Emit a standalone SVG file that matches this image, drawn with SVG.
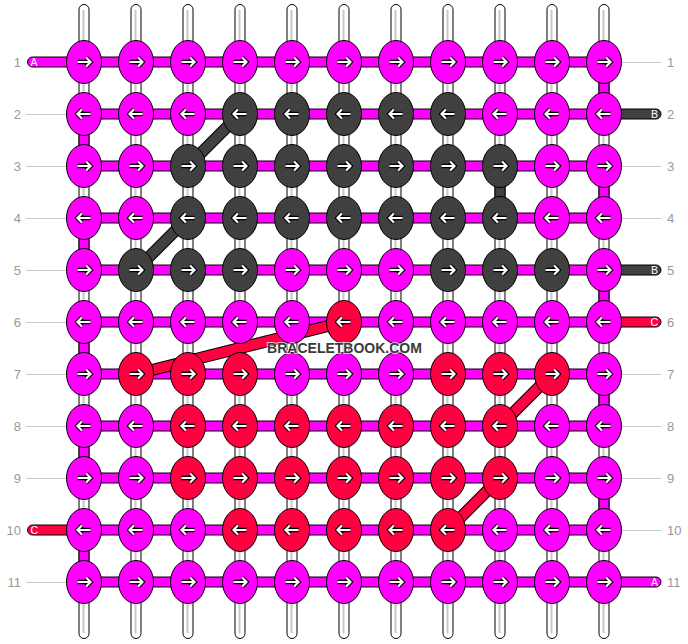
<svg xmlns="http://www.w3.org/2000/svg" xmlns:xlink="http://www.w3.org/1999/xlink" width="688" height="644" viewBox="0 0 688 644">
<style>
.st{fill:#fff;stroke:#000;stroke-width:1}
.gl{stroke:#c8c8c8;stroke-width:2}
.vp{stroke:#000;stroke-width:1}
.hb{fill:#ff00ff;stroke:#000;stroke-width:1}
.m,.vm{fill:#ff00ff}
.d,.vd{fill:#404040}
.r,.vr{fill:#ff0040}
#nd{stroke:#000;stroke-width:1}
.ao{fill:none;stroke:#000;stroke-width:4.4;stroke-linejoin:miter}
.ai{fill:none;stroke:#fff;stroke-width:2.2;stroke-linejoin:miter}
.dgo{stroke:#000;stroke-width:12}
.dgd{stroke:#404040;stroke-width:10}
.dgr{stroke:#ff0040;stroke-width:10}
.ln{stroke:#c8c8c8;stroke-width:1}
.num{font-family:"Liberation Sans",Arial,sans-serif;font-size:13px;fill:#999}
.tl{font-family:"Liberation Sans",Arial,sans-serif;font-size:10.5px;fill:#fff}
.wm{font-family:"Liberation Sans",Arial,sans-serif;font-size:14px;font-weight:bold;fill:#3a3a3a;stroke:#fff;stroke-width:2;paint-order:stroke;stroke-opacity:0.7}
</style>
<defs>
<g id="ar"><path class="ao" d="M-6.5,0H6.5M2.2,-4.4L6.5,0L2.2,4.4"/><path class="ai" d="M-6.5,0H6.5M2.2,-4.4L6.5,0L2.2,4.4"/></g>
<g id="al"><use xlink:href="#ar" href="#ar" transform="scale(-1,1)"/></g>
<ellipse id="nd" rx="17.5" ry="21.5"/>
</defs>
<g id="connectors">
<g id="strands">
<rect class="st" x="79" y="4.5" width="10" height="634" rx="5"/><line class="gl" x1="83.5" y1="10" x2="83.5" y2="633"/>
<rect class="st" x="131" y="4.5" width="10" height="634" rx="5"/><line class="gl" x1="135.5" y1="10" x2="135.5" y2="633"/>
<rect class="st" x="183" y="4.5" width="10" height="634" rx="5"/><line class="gl" x1="187.5" y1="10" x2="187.5" y2="633"/>
<rect class="st" x="235" y="4.5" width="10" height="634" rx="5"/><line class="gl" x1="239.5" y1="10" x2="239.5" y2="633"/>
<rect class="st" x="287" y="4.5" width="10" height="634" rx="5"/><line class="gl" x1="291.5" y1="10" x2="291.5" y2="633"/>
<rect class="st" x="339" y="4.5" width="10" height="634" rx="5"/><line class="gl" x1="343.5" y1="10" x2="343.5" y2="633"/>
<rect class="st" x="391" y="4.5" width="10" height="634" rx="5"/><line class="gl" x1="395.5" y1="10" x2="395.5" y2="633"/>
<rect class="st" x="443" y="4.5" width="10" height="634" rx="5"/><line class="gl" x1="447.5" y1="10" x2="447.5" y2="633"/>
<rect class="st" x="495" y="4.5" width="10" height="634" rx="5"/><line class="gl" x1="499.5" y1="10" x2="499.5" y2="633"/>
<rect class="st" x="547" y="4.5" width="10" height="634" rx="5"/><line class="gl" x1="551.5" y1="10" x2="551.5" y2="633"/>
<rect class="st" x="599" y="4.5" width="10" height="634" rx="5"/><line class="gl" x1="603.5" y1="10" x2="603.5" y2="633"/>
</g>
<g id="vertical-pieces">
<rect class="vp vm" x="79" y="133" width="10" height="16"/>
<rect class="vp vm" x="79" y="237" width="10" height="16"/>
<rect class="vp vm" x="79" y="341" width="10" height="16"/>
<rect class="vp vm" x="79" y="445" width="10" height="16"/>
<rect class="vp vm" x="79" y="549" width="10" height="16"/>
<rect class="vp vm" x="599" y="81" width="10" height="16"/>
<rect class="vp vm" x="599" y="185" width="10" height="16"/>
<rect class="vp vm" x="599" y="289" width="10" height="16"/>
<rect class="vp vm" x="599" y="393" width="10" height="16"/>
<rect class="vp vm" x="599" y="497" width="10" height="16"/>
<rect class="vp vd" x="495" y="185" width="10" height="16"/>
</g>
<g id="rows">
<rect class="hb" x="84" y="57" width="520" height="10"/>
<rect class="hb" x="84" y="109" width="520" height="10"/>
<rect class="hb" x="84" y="161" width="520" height="10"/>
<rect class="hb" x="84" y="213" width="520" height="10"/>
<rect class="hb" x="84" y="265" width="520" height="10"/>
<rect class="hb" x="84" y="317" width="520" height="10"/>
<rect class="hb" x="84" y="369" width="520" height="10"/>
<rect class="hb" x="84" y="421" width="520" height="10"/>
<rect class="hb" x="84" y="473" width="520" height="10"/>
<rect class="hb" x="84" y="525" width="520" height="10"/>
<rect class="hb" x="84" y="577" width="520" height="10"/>
</g>
<g id="thread-ends">
<rect class="vp vm" x="27.5" y="57" width="55" height="10" rx="5"/>
<rect class="vp vr" x="27.5" y="525" width="55" height="10" rx="5"/>
<rect class="vp vd" x="606" y="109" width="55" height="10" rx="5"/>
<rect class="vp vd" x="606" y="265" width="55" height="10" rx="5"/>
<rect class="vp vr" x="606" y="317" width="55" height="10" rx="5"/>
<rect class="vp vm" x="606" y="577" width="55" height="10" rx="5"/>
</g>
<g id="guide-lines">
<line class="ln" x1="26" y1="114.5" x2="66" y2="114.5"/>
<line class="ln" x1="26" y1="166.5" x2="66" y2="166.5"/>
<line class="ln" x1="26" y1="218.5" x2="66" y2="218.5"/>
<line class="ln" x1="26" y1="270.5" x2="66" y2="270.5"/>
<line class="ln" x1="26" y1="322.5" x2="66" y2="322.5"/>
<line class="ln" x1="26" y1="374.5" x2="66" y2="374.5"/>
<line class="ln" x1="26" y1="426.5" x2="66" y2="426.5"/>
<line class="ln" x1="26" y1="478.5" x2="66" y2="478.5"/>
<line class="ln" x1="26" y1="582.5" x2="66" y2="582.5"/>
<line class="ln" x1="622" y1="62.5" x2="661" y2="62.5"/>
<line class="ln" x1="622" y1="166.5" x2="661" y2="166.5"/>
<line class="ln" x1="622" y1="218.5" x2="661" y2="218.5"/>
<line class="ln" x1="622" y1="374.5" x2="661" y2="374.5"/>
<line class="ln" x1="622" y1="426.5" x2="661" y2="426.5"/>
<line class="ln" x1="622" y1="478.5" x2="661" y2="478.5"/>
<line class="ln" x1="622" y1="530.5" x2="661" y2="530.5"/>
</g>
<g id="diagonals">
<line class="dgo" x1="240" y1="114" x2="188" y2="166"/><line class="dgd" x1="240" y1="114" x2="188" y2="166"/>
<line class="dgo" x1="188" y1="218" x2="136" y2="270"/><line class="dgd" x1="188" y1="218" x2="136" y2="270"/>
<line class="dgo" x1="344" y1="322" x2="136" y2="374"/><line class="dgr" x1="344" y1="322" x2="136" y2="374"/>
<line class="dgo" x1="552" y1="374" x2="500" y2="426"/><line class="dgr" x1="552" y1="374" x2="500" y2="426"/>
<line class="dgo" x1="500" y1="478" x2="448" y2="530"/><line class="dgr" x1="500" y1="478" x2="448" y2="530"/>
</g>
</g>
<g id="nodes">
<g id="n1-1" class="m" transform="translate(84,62)"><use href="#nd" xlink:href="#nd"/><use href="#ar" xlink:href="#ar"/></g>
<g id="n1-2" class="m" transform="translate(136,62)"><use href="#nd" xlink:href="#nd"/><use href="#ar" xlink:href="#ar"/></g>
<g id="n1-3" class="m" transform="translate(188,62)"><use href="#nd" xlink:href="#nd"/><use href="#ar" xlink:href="#ar"/></g>
<g id="n1-4" class="m" transform="translate(240,62)"><use href="#nd" xlink:href="#nd"/><use href="#ar" xlink:href="#ar"/></g>
<g id="n1-5" class="m" transform="translate(292,62)"><use href="#nd" xlink:href="#nd"/><use href="#ar" xlink:href="#ar"/></g>
<g id="n1-6" class="m" transform="translate(344,62)"><use href="#nd" xlink:href="#nd"/><use href="#ar" xlink:href="#ar"/></g>
<g id="n1-7" class="m" transform="translate(396,62)"><use href="#nd" xlink:href="#nd"/><use href="#ar" xlink:href="#ar"/></g>
<g id="n1-8" class="m" transform="translate(448,62)"><use href="#nd" xlink:href="#nd"/><use href="#ar" xlink:href="#ar"/></g>
<g id="n1-9" class="m" transform="translate(500,62)"><use href="#nd" xlink:href="#nd"/><use href="#ar" xlink:href="#ar"/></g>
<g id="n1-10" class="m" transform="translate(552,62)"><use href="#nd" xlink:href="#nd"/><use href="#ar" xlink:href="#ar"/></g>
<g id="n1-11" class="m" transform="translate(604,62)"><use href="#nd" xlink:href="#nd"/><use href="#ar" xlink:href="#ar"/></g>

<g id="n2-1" class="m" transform="translate(84,114)"><use href="#nd" xlink:href="#nd"/><use href="#al" xlink:href="#al"/></g>
<g id="n2-2" class="m" transform="translate(136,114)"><use href="#nd" xlink:href="#nd"/><use href="#al" xlink:href="#al"/></g>
<g id="n2-3" class="m" transform="translate(188,114)"><use href="#nd" xlink:href="#nd"/><use href="#al" xlink:href="#al"/></g>
<g id="n2-4" class="d" transform="translate(240,114)"><use href="#nd" xlink:href="#nd"/><use href="#al" xlink:href="#al"/></g>
<g id="n2-5" class="d" transform="translate(292,114)"><use href="#nd" xlink:href="#nd"/><use href="#al" xlink:href="#al"/></g>
<g id="n2-6" class="d" transform="translate(344,114)"><use href="#nd" xlink:href="#nd"/><use href="#al" xlink:href="#al"/></g>
<g id="n2-7" class="d" transform="translate(396,114)"><use href="#nd" xlink:href="#nd"/><use href="#al" xlink:href="#al"/></g>
<g id="n2-8" class="d" transform="translate(448,114)"><use href="#nd" xlink:href="#nd"/><use href="#al" xlink:href="#al"/></g>
<g id="n2-9" class="m" transform="translate(500,114)"><use href="#nd" xlink:href="#nd"/><use href="#al" xlink:href="#al"/></g>
<g id="n2-10" class="m" transform="translate(552,114)"><use href="#nd" xlink:href="#nd"/><use href="#al" xlink:href="#al"/></g>
<g id="n2-11" class="m" transform="translate(604,114)"><use href="#nd" xlink:href="#nd"/><use href="#al" xlink:href="#al"/></g>

<g id="n3-1" class="m" transform="translate(84,166)"><use href="#nd" xlink:href="#nd"/><use href="#ar" xlink:href="#ar"/></g>
<g id="n3-2" class="m" transform="translate(136,166)"><use href="#nd" xlink:href="#nd"/><use href="#ar" xlink:href="#ar"/></g>
<g id="n3-3" class="d" transform="translate(188,166)"><use href="#nd" xlink:href="#nd"/><use href="#ar" xlink:href="#ar"/></g>
<g id="n3-4" class="d" transform="translate(240,166)"><use href="#nd" xlink:href="#nd"/><use href="#ar" xlink:href="#ar"/></g>
<g id="n3-5" class="d" transform="translate(292,166)"><use href="#nd" xlink:href="#nd"/><use href="#ar" xlink:href="#ar"/></g>
<g id="n3-6" class="d" transform="translate(344,166)"><use href="#nd" xlink:href="#nd"/><use href="#ar" xlink:href="#ar"/></g>
<g id="n3-7" class="d" transform="translate(396,166)"><use href="#nd" xlink:href="#nd"/><use href="#ar" xlink:href="#ar"/></g>
<g id="n3-8" class="d" transform="translate(448,166)"><use href="#nd" xlink:href="#nd"/><use href="#ar" xlink:href="#ar"/></g>
<g id="n3-9" class="d" transform="translate(500,166)"><use href="#nd" xlink:href="#nd"/><use href="#ar" xlink:href="#ar"/></g>
<g id="n3-10" class="m" transform="translate(552,166)"><use href="#nd" xlink:href="#nd"/><use href="#ar" xlink:href="#ar"/></g>
<g id="n3-11" class="m" transform="translate(604,166)"><use href="#nd" xlink:href="#nd"/><use href="#ar" xlink:href="#ar"/></g>

<g id="n4-1" class="m" transform="translate(84,218)"><use href="#nd" xlink:href="#nd"/><use href="#al" xlink:href="#al"/></g>
<g id="n4-2" class="m" transform="translate(136,218)"><use href="#nd" xlink:href="#nd"/><use href="#al" xlink:href="#al"/></g>
<g id="n4-3" class="d" transform="translate(188,218)"><use href="#nd" xlink:href="#nd"/><use href="#al" xlink:href="#al"/></g>
<g id="n4-4" class="d" transform="translate(240,218)"><use href="#nd" xlink:href="#nd"/><use href="#al" xlink:href="#al"/></g>
<g id="n4-5" class="d" transform="translate(292,218)"><use href="#nd" xlink:href="#nd"/><use href="#al" xlink:href="#al"/></g>
<g id="n4-6" class="d" transform="translate(344,218)"><use href="#nd" xlink:href="#nd"/><use href="#al" xlink:href="#al"/></g>
<g id="n4-7" class="d" transform="translate(396,218)"><use href="#nd" xlink:href="#nd"/><use href="#al" xlink:href="#al"/></g>
<g id="n4-8" class="d" transform="translate(448,218)"><use href="#nd" xlink:href="#nd"/><use href="#al" xlink:href="#al"/></g>
<g id="n4-9" class="d" transform="translate(500,218)"><use href="#nd" xlink:href="#nd"/><use href="#al" xlink:href="#al"/></g>
<g id="n4-10" class="m" transform="translate(552,218)"><use href="#nd" xlink:href="#nd"/><use href="#al" xlink:href="#al"/></g>
<g id="n4-11" class="m" transform="translate(604,218)"><use href="#nd" xlink:href="#nd"/><use href="#al" xlink:href="#al"/></g>

<g id="n5-1" class="m" transform="translate(84,270)"><use href="#nd" xlink:href="#nd"/><use href="#ar" xlink:href="#ar"/></g>
<g id="n5-2" class="d" transform="translate(136,270)"><use href="#nd" xlink:href="#nd"/><use href="#ar" xlink:href="#ar"/></g>
<g id="n5-3" class="d" transform="translate(188,270)"><use href="#nd" xlink:href="#nd"/><use href="#ar" xlink:href="#ar"/></g>
<g id="n5-4" class="d" transform="translate(240,270)"><use href="#nd" xlink:href="#nd"/><use href="#ar" xlink:href="#ar"/></g>
<g id="n5-5" class="m" transform="translate(292,270)"><use href="#nd" xlink:href="#nd"/><use href="#ar" xlink:href="#ar"/></g>
<g id="n5-6" class="m" transform="translate(344,270)"><use href="#nd" xlink:href="#nd"/><use href="#ar" xlink:href="#ar"/></g>
<g id="n5-7" class="m" transform="translate(396,270)"><use href="#nd" xlink:href="#nd"/><use href="#ar" xlink:href="#ar"/></g>
<g id="n5-8" class="d" transform="translate(448,270)"><use href="#nd" xlink:href="#nd"/><use href="#ar" xlink:href="#ar"/></g>
<g id="n5-9" class="d" transform="translate(500,270)"><use href="#nd" xlink:href="#nd"/><use href="#ar" xlink:href="#ar"/></g>
<g id="n5-10" class="d" transform="translate(552,270)"><use href="#nd" xlink:href="#nd"/><use href="#ar" xlink:href="#ar"/></g>
<g id="n5-11" class="m" transform="translate(604,270)"><use href="#nd" xlink:href="#nd"/><use href="#ar" xlink:href="#ar"/></g>

<g id="n6-1" class="m" transform="translate(84,322)"><use href="#nd" xlink:href="#nd"/><use href="#al" xlink:href="#al"/></g>
<g id="n6-2" class="m" transform="translate(136,322)"><use href="#nd" xlink:href="#nd"/><use href="#al" xlink:href="#al"/></g>
<g id="n6-3" class="m" transform="translate(188,322)"><use href="#nd" xlink:href="#nd"/><use href="#al" xlink:href="#al"/></g>
<g id="n6-4" class="m" transform="translate(240,322)"><use href="#nd" xlink:href="#nd"/><use href="#al" xlink:href="#al"/></g>
<g id="n6-5" class="m" transform="translate(292,322)"><use href="#nd" xlink:href="#nd"/><use href="#al" xlink:href="#al"/></g>
<g id="n6-6" class="r" transform="translate(344,322)"><use href="#nd" xlink:href="#nd"/><use href="#al" xlink:href="#al"/></g>
<g id="n6-7" class="m" transform="translate(396,322)"><use href="#nd" xlink:href="#nd"/><use href="#al" xlink:href="#al"/></g>
<g id="n6-8" class="m" transform="translate(448,322)"><use href="#nd" xlink:href="#nd"/><use href="#al" xlink:href="#al"/></g>
<g id="n6-9" class="m" transform="translate(500,322)"><use href="#nd" xlink:href="#nd"/><use href="#al" xlink:href="#al"/></g>
<g id="n6-10" class="m" transform="translate(552,322)"><use href="#nd" xlink:href="#nd"/><use href="#al" xlink:href="#al"/></g>
<g id="n6-11" class="m" transform="translate(604,322)"><use href="#nd" xlink:href="#nd"/><use href="#al" xlink:href="#al"/></g>

<g id="n7-1" class="m" transform="translate(84,374)"><use href="#nd" xlink:href="#nd"/><use href="#ar" xlink:href="#ar"/></g>
<g id="n7-2" class="r" transform="translate(136,374)"><use href="#nd" xlink:href="#nd"/><use href="#ar" xlink:href="#ar"/></g>
<g id="n7-3" class="r" transform="translate(188,374)"><use href="#nd" xlink:href="#nd"/><use href="#ar" xlink:href="#ar"/></g>
<g id="n7-4" class="r" transform="translate(240,374)"><use href="#nd" xlink:href="#nd"/><use href="#ar" xlink:href="#ar"/></g>
<g id="n7-5" class="m" transform="translate(292,374)"><use href="#nd" xlink:href="#nd"/><use href="#ar" xlink:href="#ar"/></g>
<g id="n7-6" class="m" transform="translate(344,374)"><use href="#nd" xlink:href="#nd"/><use href="#ar" xlink:href="#ar"/></g>
<g id="n7-7" class="m" transform="translate(396,374)"><use href="#nd" xlink:href="#nd"/><use href="#ar" xlink:href="#ar"/></g>
<g id="n7-8" class="r" transform="translate(448,374)"><use href="#nd" xlink:href="#nd"/><use href="#ar" xlink:href="#ar"/></g>
<g id="n7-9" class="r" transform="translate(500,374)"><use href="#nd" xlink:href="#nd"/><use href="#ar" xlink:href="#ar"/></g>
<g id="n7-10" class="r" transform="translate(552,374)"><use href="#nd" xlink:href="#nd"/><use href="#ar" xlink:href="#ar"/></g>
<g id="n7-11" class="m" transform="translate(604,374)"><use href="#nd" xlink:href="#nd"/><use href="#ar" xlink:href="#ar"/></g>

<g id="n8-1" class="m" transform="translate(84,426)"><use href="#nd" xlink:href="#nd"/><use href="#al" xlink:href="#al"/></g>
<g id="n8-2" class="m" transform="translate(136,426)"><use href="#nd" xlink:href="#nd"/><use href="#al" xlink:href="#al"/></g>
<g id="n8-3" class="r" transform="translate(188,426)"><use href="#nd" xlink:href="#nd"/><use href="#al" xlink:href="#al"/></g>
<g id="n8-4" class="r" transform="translate(240,426)"><use href="#nd" xlink:href="#nd"/><use href="#al" xlink:href="#al"/></g>
<g id="n8-5" class="r" transform="translate(292,426)"><use href="#nd" xlink:href="#nd"/><use href="#al" xlink:href="#al"/></g>
<g id="n8-6" class="r" transform="translate(344,426)"><use href="#nd" xlink:href="#nd"/><use href="#al" xlink:href="#al"/></g>
<g id="n8-7" class="r" transform="translate(396,426)"><use href="#nd" xlink:href="#nd"/><use href="#al" xlink:href="#al"/></g>
<g id="n8-8" class="r" transform="translate(448,426)"><use href="#nd" xlink:href="#nd"/><use href="#al" xlink:href="#al"/></g>
<g id="n8-9" class="r" transform="translate(500,426)"><use href="#nd" xlink:href="#nd"/><use href="#al" xlink:href="#al"/></g>
<g id="n8-10" class="m" transform="translate(552,426)"><use href="#nd" xlink:href="#nd"/><use href="#al" xlink:href="#al"/></g>
<g id="n8-11" class="m" transform="translate(604,426)"><use href="#nd" xlink:href="#nd"/><use href="#al" xlink:href="#al"/></g>

<g id="n9-1" class="m" transform="translate(84,478)"><use href="#nd" xlink:href="#nd"/><use href="#ar" xlink:href="#ar"/></g>
<g id="n9-2" class="m" transform="translate(136,478)"><use href="#nd" xlink:href="#nd"/><use href="#ar" xlink:href="#ar"/></g>
<g id="n9-3" class="r" transform="translate(188,478)"><use href="#nd" xlink:href="#nd"/><use href="#ar" xlink:href="#ar"/></g>
<g id="n9-4" class="r" transform="translate(240,478)"><use href="#nd" xlink:href="#nd"/><use href="#ar" xlink:href="#ar"/></g>
<g id="n9-5" class="r" transform="translate(292,478)"><use href="#nd" xlink:href="#nd"/><use href="#ar" xlink:href="#ar"/></g>
<g id="n9-6" class="r" transform="translate(344,478)"><use href="#nd" xlink:href="#nd"/><use href="#ar" xlink:href="#ar"/></g>
<g id="n9-7" class="r" transform="translate(396,478)"><use href="#nd" xlink:href="#nd"/><use href="#ar" xlink:href="#ar"/></g>
<g id="n9-8" class="r" transform="translate(448,478)"><use href="#nd" xlink:href="#nd"/><use href="#ar" xlink:href="#ar"/></g>
<g id="n9-9" class="r" transform="translate(500,478)"><use href="#nd" xlink:href="#nd"/><use href="#ar" xlink:href="#ar"/></g>
<g id="n9-10" class="m" transform="translate(552,478)"><use href="#nd" xlink:href="#nd"/><use href="#ar" xlink:href="#ar"/></g>
<g id="n9-11" class="m" transform="translate(604,478)"><use href="#nd" xlink:href="#nd"/><use href="#ar" xlink:href="#ar"/></g>

<g id="n10-1" class="m" transform="translate(84,530)"><use href="#nd" xlink:href="#nd"/><use href="#al" xlink:href="#al"/></g>
<g id="n10-2" class="m" transform="translate(136,530)"><use href="#nd" xlink:href="#nd"/><use href="#al" xlink:href="#al"/></g>
<g id="n10-3" class="m" transform="translate(188,530)"><use href="#nd" xlink:href="#nd"/><use href="#al" xlink:href="#al"/></g>
<g id="n10-4" class="r" transform="translate(240,530)"><use href="#nd" xlink:href="#nd"/><use href="#al" xlink:href="#al"/></g>
<g id="n10-5" class="r" transform="translate(292,530)"><use href="#nd" xlink:href="#nd"/><use href="#al" xlink:href="#al"/></g>
<g id="n10-6" class="r" transform="translate(344,530)"><use href="#nd" xlink:href="#nd"/><use href="#al" xlink:href="#al"/></g>
<g id="n10-7" class="r" transform="translate(396,530)"><use href="#nd" xlink:href="#nd"/><use href="#al" xlink:href="#al"/></g>
<g id="n10-8" class="r" transform="translate(448,530)"><use href="#nd" xlink:href="#nd"/><use href="#al" xlink:href="#al"/></g>
<g id="n10-9" class="m" transform="translate(500,530)"><use href="#nd" xlink:href="#nd"/><use href="#al" xlink:href="#al"/></g>
<g id="n10-10" class="m" transform="translate(552,530)"><use href="#nd" xlink:href="#nd"/><use href="#al" xlink:href="#al"/></g>
<g id="n10-11" class="m" transform="translate(604,530)"><use href="#nd" xlink:href="#nd"/><use href="#al" xlink:href="#al"/></g>

<g id="n11-1" class="m" transform="translate(84,582)"><use href="#nd" xlink:href="#nd"/><use href="#ar" xlink:href="#ar"/></g>
<g id="n11-2" class="m" transform="translate(136,582)"><use href="#nd" xlink:href="#nd"/><use href="#ar" xlink:href="#ar"/></g>
<g id="n11-3" class="m" transform="translate(188,582)"><use href="#nd" xlink:href="#nd"/><use href="#ar" xlink:href="#ar"/></g>
<g id="n11-4" class="m" transform="translate(240,582)"><use href="#nd" xlink:href="#nd"/><use href="#ar" xlink:href="#ar"/></g>
<g id="n11-5" class="m" transform="translate(292,582)"><use href="#nd" xlink:href="#nd"/><use href="#ar" xlink:href="#ar"/></g>
<g id="n11-6" class="m" transform="translate(344,582)"><use href="#nd" xlink:href="#nd"/><use href="#ar" xlink:href="#ar"/></g>
<g id="n11-7" class="m" transform="translate(396,582)"><use href="#nd" xlink:href="#nd"/><use href="#ar" xlink:href="#ar"/></g>
<g id="n11-8" class="m" transform="translate(448,582)"><use href="#nd" xlink:href="#nd"/><use href="#ar" xlink:href="#ar"/></g>
<g id="n11-9" class="m" transform="translate(500,582)"><use href="#nd" xlink:href="#nd"/><use href="#ar" xlink:href="#ar"/></g>
<g id="n11-10" class="m" transform="translate(552,582)"><use href="#nd" xlink:href="#nd"/><use href="#ar" xlink:href="#ar"/></g>
<g id="n11-11" class="m" transform="translate(604,582)"><use href="#nd" xlink:href="#nd"/><use href="#ar" xlink:href="#ar"/></g>
</g>
<g id="labels">
<text class="num" x="21" y="67" text-anchor="end">1</text>
<text class="num" x="21" y="119" text-anchor="end">2</text>
<text class="num" x="21" y="171" text-anchor="end">3</text>
<text class="num" x="21" y="223" text-anchor="end">4</text>
<text class="num" x="21" y="275" text-anchor="end">5</text>
<text class="num" x="21" y="327" text-anchor="end">6</text>
<text class="num" x="21" y="379" text-anchor="end">7</text>
<text class="num" x="21" y="431" text-anchor="end">8</text>
<text class="num" x="21" y="483" text-anchor="end">9</text>
<text class="num" x="21" y="535" text-anchor="end">10</text>
<text class="num" x="21" y="587" text-anchor="end">11</text>
<text class="num" x="667" y="67">1</text>
<text class="num" x="667" y="119">2</text>
<text class="num" x="667" y="171">3</text>
<text class="num" x="667" y="223">4</text>
<text class="num" x="667" y="275">5</text>
<text class="num" x="667" y="327">6</text>
<text class="num" x="667" y="379">7</text>
<text class="num" x="667" y="431">8</text>
<text class="num" x="667" y="483">9</text>
<text class="num" x="667" y="535">10</text>
<text class="num" x="667" y="587">11</text>
<text class="tl" x="30.5" y="66">A</text>
<text class="tl" x="30.5" y="534">C</text>
<text class="tl" x="658" y="118" text-anchor="end">B</text>
<text class="tl" x="658" y="274" text-anchor="end">B</text>
<text class="tl" x="658" y="326" text-anchor="end">C</text>
<text class="tl" x="658" y="586" text-anchor="end">A</text>
<text class="wm" x="344.5" y="353" text-anchor="middle">BRACELETBOOK.COM</text>
</g>
</svg>
